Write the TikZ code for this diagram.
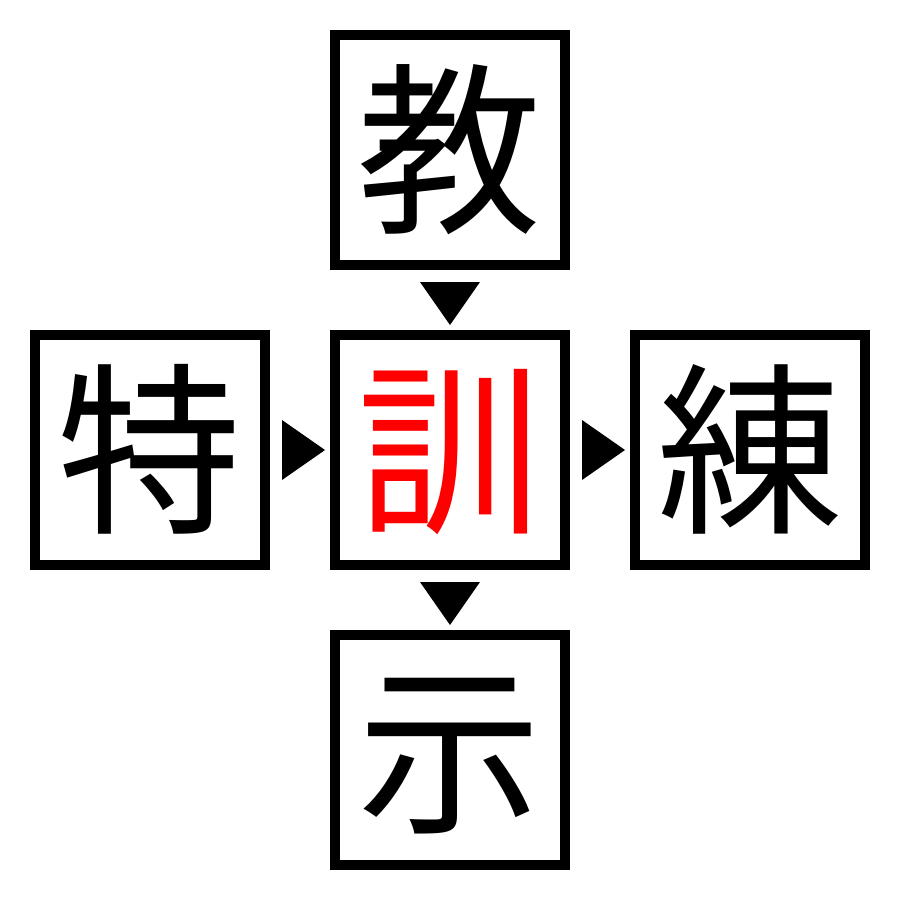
\documentclass[tikz,border=0pt]{standalone}
\usepackage{fontspec}
\newfontfamily\cjk{Noto Sans CJK JP}
\usetikzlibrary{positioning}

\tikzset{
    kanji/.style={draw,line width=0.2cm,minimum size=4.6cm,inner sep=0pt,
        font=\cjk\fontsize{105}{105}\selectfont,text height=92pt,text depth=13pt},
    marker/.style={fill=black}
}

\begin{document}
\begin{tikzpicture}[x=0.02cm,y=-0.02cm]
        \useasboundingbox (0,0) rectangle (900,900);
        \node[kanji] at (450,150) (t) {教};
        \node[kanji] at (150,450) (l) {特};
        \node[kanji,text=red] at (450,450) (c) {訓};
        \node[kanji] at (750,450) (r) {練};
        \node[kanji] at (450,750) (b) {示};
        \fill[marker] (420,282) -- (480,282) -- (450,325) -- cycle;
        \fill[marker] (282,420) -- (325,450) -- (282,480) -- cycle;
        \fill[marker] (582,420) -- (625,450) -- (582,480) -- cycle;
        \fill[marker] (420,582) -- (480,582) -- (450,625) -- cycle;
    \end{tikzpicture}
\end{document}
